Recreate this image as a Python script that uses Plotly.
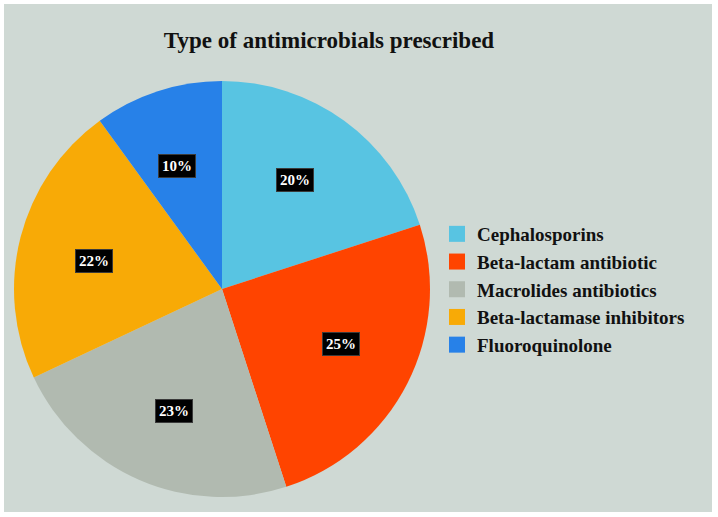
import math
import plotly.graph_objects as go

categories = ["Cephalosporins", "Beta-lactam antibiotic", "Macrolides antibiotics",
              "Beta-lactamase inhibitors", "Fluoroquinolone"]
values = [20, 25, 23, 22, 10]
colors = ["#58c4e2", "#ff4400", "#b1bab0", "#f8aa06", "#2781e8"]
title_text = "Type of antimicrobials prescribed"

W, H = 718, 517
SERIF = "Liberation Serif, Times New Roman, serif"

# pie geometry (pixels)
cx, cy, R = 222, 289, 208

fig = go.Figure()
fig.add_trace(go.Pie(
    labels=categories, values=values, sort=False, direction="clockwise",
    rotation=0, marker=dict(colors=colors, line=dict(width=0)),
    textinfo="none", hoverinfo="label+percent", showlegend=False,
    domain=dict(x=[(cx - R) / W, (cx + R) / W], y=[1 - (cy + R) / H, 1 - (cy - R) / H]),
))

# legend via square markers
for cat, col in zip(categories, colors):
    fig.add_trace(go.Scatter(
        x=[None], y=[None], mode="markers", name=f"<b>{cat}</b>",
        marker=dict(symbol="square", size=18, color=col),
        showlegend=True, hoverinfo="skip",
    ))

# percentage labels in black boxes
total = sum(values)
cum = 0
for v in values:
    mid = (cum + v / 2) / total * 2 * math.pi - math.radians(2)
    cum += v
    r = 0.63 * R
    px = cx + r * math.sin(mid)
    py = cy - r * math.cos(mid)
    fig.add_annotation(
        x=px / W, y=1 - py / H, xref="paper", yref="paper",
        xanchor="center", yanchor="middle",
        text=f"<b>{round(v / total * 100)}%</b>", showarrow=False,
        font=dict(family=SERIF, size=15, color="white"),
        bgcolor="black", bordercolor="#3a3a3a", borderwidth=1, borderpad=3,
    )

fig.update_layout(
    width=W, height=H,
    margin=dict(l=0, r=0, t=0, b=0),
    paper_bgcolor="white", plot_bgcolor="rgba(0,0,0,0)",
    xaxis=dict(visible=False), yaxis=dict(visible=False),
    shapes=[dict(type="rect", xref="paper", yref="paper", layer="below",
                 x0=4 / W, x1=712 / W, y0=1 - 512 / H, y1=1 - 4 / H,
                 fillcolor="#cfd9d4", line=dict(width=0))],
    title=dict(text=f"<b>{title_text}</b>", x=329 / W, xanchor="center",
               y=1 - 40 / H, yanchor="middle",
               font=dict(family=SERIF, size=23, color="#111")),
    legend=dict(x=437 / W, y=1 - 215 / H, xanchor="left", yanchor="top",
                bgcolor="rgba(0,0,0,0)", borderwidth=0,
                font=dict(family=SERIF, size=19, color="#111"),
                itemsizing="trace"),
)

fig.write_html(
    "out.html",
    config={"displayModeBar": False},
    post_script="document.body.style.margin='0px';document.body.style.overflow='hidden';",
)
